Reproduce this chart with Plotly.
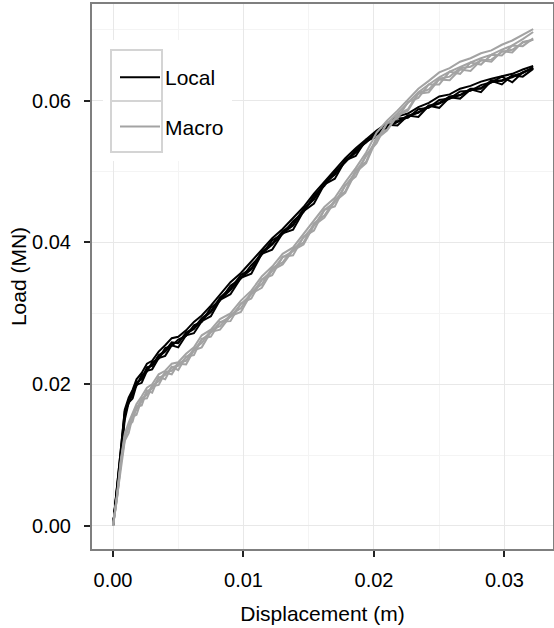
import plotly.graph_objects as go

# Displacement samples (m)
disp = [0, 0.0003, 0.0006, 0.0009, 0.0012, 0.0015, 0.0018, 0.0022, 0.0026, 0.0030,
        0.0035, 0.0040, 0.0045, 0.0050, 0.0056, 0.0062, 0.0068, 0.0075, 0.0082, 0.0090,
        0.0098, 0.0106, 0.0114, 0.0122, 0.0130, 0.0138, 0.0146, 0.0154, 0.0162, 0.0170,
        0.0178, 0.0186, 0.0194, 0.0202, 0.0210, 0.0218, 0.0226, 0.0234, 0.0242, 0.0250,
        0.0258, 0.0266, 0.0274, 0.0282, 0.0290, 0.0298, 0.0306, 0.0314, 0.0322]

# Load (MN) — Local model runs
local_1 = [0, 0.0050, 0.0108, 0.0164, 0.0181, 0.0192, 0.0207, 0.0216, 0.0229, 0.0233,
           0.0246, 0.0255, 0.0265, 0.0267, 0.0276, 0.0288, 0.0297, 0.0311, 0.0327, 0.0344,
           0.0357, 0.0373, 0.0390, 0.0406, 0.0419, 0.0434, 0.0450, 0.0469, 0.0486, 0.0502,
           0.0519, 0.0533, 0.0546, 0.0558, 0.0568, 0.0578, 0.0582, 0.0591, 0.0597, 0.0606,
           0.0609, 0.0617, 0.0621, 0.0627, 0.0631, 0.0635, 0.0638, 0.0644, 0.0649]
local_2 = [0, 0.0047, 0.0102, 0.0155, 0.0178, 0.0185, 0.0203, 0.0207, 0.0224, 0.0226,
           0.0241, 0.0247, 0.0259, 0.0258, 0.0273, 0.0279, 0.0293, 0.0303, 0.0322, 0.0335,
           0.0354, 0.0363, 0.0387, 0.0398, 0.0416, 0.0426, 0.0447, 0.0462, 0.0484, 0.0497,
           0.0516, 0.0528, 0.0544, 0.0553, 0.0565, 0.0571, 0.0579, 0.0583, 0.0593, 0.0597,
           0.0606, 0.0608, 0.0617, 0.0617, 0.0629, 0.0628, 0.0635, 0.0639, 0.0647]
local_3 = [0, 0.0045, 0.0098, 0.0150, 0.0174, 0.0180, 0.0199, 0.0202, 0.0219, 0.0221,
           0.0237, 0.0240, 0.0255, 0.0252, 0.0269, 0.0272, 0.0289, 0.0296, 0.0319, 0.0327,
           0.0350, 0.0356, 0.0384, 0.0390, 0.0413, 0.0418, 0.0444, 0.0455, 0.0482, 0.0490,
           0.0516, 0.0522, 0.0545, 0.0548, 0.0566, 0.0565, 0.0579, 0.0577, 0.0593, 0.0590,
           0.0605, 0.0603, 0.0616, 0.0612, 0.0628, 0.0623, 0.0636, 0.0634, 0.0645]
local_4 = [0, 0.0052, 0.0106, 0.0162, 0.0173, 0.0190, 0.0198, 0.0213, 0.0218, 0.0231,
           0.0236, 0.0251, 0.0254, 0.0263, 0.0268, 0.0283, 0.0288, 0.0308, 0.0318, 0.0339,
           0.0349, 0.0368, 0.0383, 0.0403, 0.0412, 0.0430, 0.0443, 0.0466, 0.0480, 0.0500,
           0.0513, 0.0531, 0.0541, 0.0556, 0.0562, 0.0575, 0.0576, 0.0588, 0.0590, 0.0601,
           0.0603, 0.0613, 0.0614, 0.0622, 0.0626, 0.0634, 0.0626, 0.0640, 0.0646]
local_5 = [0, 0.0048, 0.0100, 0.0157, 0.0176, 0.0186, 0.0201, 0.0208, 0.0222, 0.0227,
           0.0239, 0.0246, 0.0257, 0.0259, 0.0271, 0.0278, 0.0291, 0.0302, 0.0319, 0.0333,
           0.0350, 0.0362, 0.0384, 0.0397, 0.0413, 0.0424, 0.0446, 0.0461, 0.0483, 0.0496,
           0.0514, 0.0527, 0.0542, 0.0551, 0.0563, 0.0570, 0.0577, 0.0583, 0.0591, 0.0596,
           0.0603, 0.0608, 0.0615, 0.0618, 0.0626, 0.0629, 0.0633, 0.0640, 0.0646]

# Load (MN) — Macro model runs
macro_1 = [0, 0.0042, 0.0093, 0.0130, 0.0146, 0.0160, 0.0172, 0.0183, 0.0195, 0.0200,
           0.0214, 0.0219, 0.0229, 0.0231, 0.0243, 0.0252, 0.0269, 0.0277, 0.0292, 0.0300,
           0.0318, 0.0332, 0.0352, 0.0366, 0.0384, 0.0393, 0.0412, 0.0430, 0.0450, 0.0463,
           0.0485, 0.0505, 0.0527, 0.0555, 0.0572, 0.0586, 0.0601, 0.0617, 0.0628, 0.0640,
           0.0646, 0.0655, 0.0660, 0.0667, 0.0671, 0.0679, 0.0685, 0.0693, 0.0701]
macro_2 = [0, 0.0038, 0.0088, 0.0122, 0.0141, 0.0147, 0.0168, 0.0170, 0.0191, 0.0188,
           0.0210, 0.0207, 0.0225, 0.0220, 0.0239, 0.0241, 0.0264, 0.0267, 0.0288, 0.0289,
           0.0314, 0.0321, 0.0348, 0.0354, 0.0380, 0.0382, 0.0408, 0.0417, 0.0446, 0.0451,
           0.0481, 0.0493, 0.0523, 0.0540, 0.0569, 0.0575, 0.0598, 0.0604, 0.0623, 0.0623,
           0.0641, 0.0638, 0.0654, 0.0651, 0.0665, 0.0664, 0.0678, 0.0677, 0.0688]
macro_3 = [0, 0.0041, 0.0091, 0.0127, 0.0139, 0.0157, 0.0164, 0.0180, 0.0185, 0.0198,
           0.0204, 0.0217, 0.0219, 0.0230, 0.0233, 0.0250, 0.0258, 0.0276, 0.0282, 0.0298,
           0.0307, 0.0330, 0.0341, 0.0364, 0.0372, 0.0391, 0.0400, 0.0427, 0.0438, 0.0460,
           0.0472, 0.0502, 0.0514, 0.0549, 0.0559, 0.0580, 0.0588, 0.0611, 0.0616, 0.0631,
           0.0634, 0.0646, 0.0648, 0.0657, 0.0658, 0.0669, 0.0672, 0.0682, 0.0686]
macro_4 = [0, 0.0039, 0.0089, 0.0124, 0.0142, 0.0153, 0.0167, 0.0176, 0.0190, 0.0194,
           0.0209, 0.0213, 0.0224, 0.0226, 0.0238, 0.0247, 0.0263, 0.0273, 0.0287, 0.0295,
           0.0313, 0.0327, 0.0347, 0.0360, 0.0379, 0.0388, 0.0407, 0.0424, 0.0446, 0.0457,
           0.0480, 0.0499, 0.0522, 0.0546, 0.0568, 0.0582, 0.0597, 0.0612, 0.0623, 0.0633,
           0.0641, 0.0648, 0.0654, 0.0660, 0.0665, 0.0672, 0.0678, 0.0687, 0.0697]
macro_5 = [0, 0.0040, 0.0087, 0.0120, 0.0131, 0.0154, 0.0157, 0.0179, 0.0180, 0.0197,
           0.0199, 0.0216, 0.0214, 0.0229, 0.0228, 0.0248, 0.0252, 0.0274, 0.0277, 0.0296,
           0.0302, 0.0328, 0.0336, 0.0361, 0.0369, 0.0389, 0.0397, 0.0424, 0.0435, 0.0458,
           0.0470, 0.0499, 0.0512, 0.0546, 0.0558, 0.0579, 0.0586, 0.0610, 0.0612, 0.0630,
           0.0629, 0.0644, 0.0642, 0.0657, 0.0655, 0.0670, 0.0668, 0.0683, 0.0686]

x_ticks = [0.00, 0.01, 0.02, 0.03]
x_tick_labels = ["0.00", "0.01", "0.02", "0.03"]
y_ticks = [0.00, 0.02, 0.04, 0.06]
y_tick_labels = ["0.00", "0.02", "0.04", "0.06"]

LOCAL_COLOR = "#000000"
MACRO_COLOR = "#A3A3A3"
FONT = "Liberation Sans, Arial, sans-serif"

fig = go.Figure()
for i, ys in enumerate([local_1, local_2, local_3, local_4, local_5]):
    fig.add_trace(go.Scatter(x=disp, y=ys, mode="lines", name="Local",
                             legendgroup="Local", showlegend=(i == 0),
                             line=dict(color=LOCAL_COLOR, width=2)))
for i, ys in enumerate([macro_1, macro_2, macro_3, macro_4, macro_5]):
    fig.add_trace(go.Scatter(x=disp, y=ys, mode="lines", name="Macro",
                             legendgroup="Macro", showlegend=(i == 0),
                             line=dict(color=MACRO_COLOR, width=2)))

W, H = 554, 628
ml, mr, mt, mb = 92, 1, 4, 79
pw, ph = W - ml - mr, H - mt - mb

def px_to_paper_x(px):
    return (px - ml) / pw

def px_to_paper_y(py):
    return (H - mb - py) / ph

shapes = [
    # legend background
    dict(type="rect", xref="paper", yref="paper", layer="above",
         x0=px_to_paper_x(103), x1=px_to_paper_x(232),
         y0=px_to_paper_y(161), y1=px_to_paper_y(40),
         fillcolor="white", line=dict(width=0)),
    # legend key boxes
    dict(type="rect", xref="paper", yref="paper", layer="above",
         x0=px_to_paper_x(111), x1=px_to_paper_x(162),
         y0=px_to_paper_y(101), y1=px_to_paper_y(50),
         fillcolor="white", line=dict(color="#D4D4D4", width=2)),
    dict(type="rect", xref="paper", yref="paper", layer="above",
         x0=px_to_paper_x(111), x1=px_to_paper_x(162),
         y0=px_to_paper_y(152), y1=px_to_paper_y(101),
         fillcolor="white", line=dict(color="#D4D4D4", width=2)),
]

axis_common = dict(
    automargin=False,
    showline=True, mirror=True, linecolor="#7F7F7F", linewidth=2,
    ticks="outside", ticklen=6, tickwidth=2, tickcolor="#222222",
    showgrid=True, gridcolor="#E8E8E8", gridwidth=1,
    zeroline=False,
    tickfont=dict(family=FONT, size=20, color="black"),
)

fig.update_layout(
    width=W, height=H,
    margin=dict(l=ml, r=mr, t=mt, b=mb, pad=0),
    paper_bgcolor="white", plot_bgcolor="white",
    font=dict(family=FONT, color="black"),
    xaxis=dict(range=[-0.00161, 0.03372], tickvals=x_ticks, ticktext=x_tick_labels,
               ticklabelstandoff=6,
               title=dict(text="Displacement (m)", font=dict(family=FONT, size=21), standoff=16),
               minor=dict(dtick=0.005, tick0=0, showgrid=True, gridcolor="#F4F4F4", ticklen=0),
               **axis_common),
    yaxis=dict(range=[-0.00325, 0.07365], tickvals=y_ticks, ticktext=y_tick_labels,
               ticklabelstandoff=9,
               title=dict(text="Load (MN)", font=dict(family=FONT, size=21), standoff=0),
               minor=dict(dtick=0.01, tick0=0, showgrid=True, gridcolor="#F4F4F4", ticklen=0),
               **axis_common),
    shapes=shapes,
    showlegend=True,
    legend=dict(x=px_to_paper_x(115), y=px_to_paper_y(57), xanchor="left", yanchor="top",
                bgcolor="rgba(0,0,0,0)", borderwidth=0,
                font=dict(family=FONT, size=21, color="black"),
                tracegroupgap=19, itemwidth=40),
)

fig.write_html("out.html",
               config={"displayModeBar": False},
               post_script="document.body.style.margin='0';document.body.style.overflow='hidden';")
